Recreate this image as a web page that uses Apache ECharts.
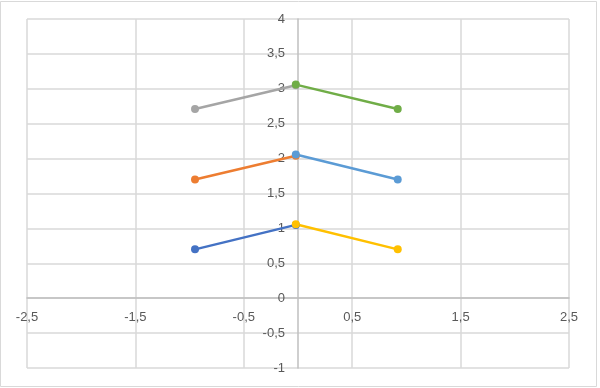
<!DOCTYPE html>
<html><head><meta charset="utf-8">
<script src="https://cdn.jsdelivr.net/npm/echarts@6/dist/echarts.min.js"></script>
<style>html,body{margin:0;padding:0;background:#fff}#c{width:600px;height:388px}</style>
</head><body><div id="c"></div>
<script>
// Left (rising) segments and right (falling) segments, [x, y]
const darkBlue  = [[-0.95, 0.70], [-0.02, 1.05]];
const orange    = [[-0.95, 1.70], [-0.02, 2.04]];
const gray      = [[-0.95, 2.71], [-0.02, 3.05]];
const yellow    = [[-0.02, 1.06], [0.92, 0.70]];
const lightBlue = [[-0.02, 2.06], [0.92, 1.70]];
const green     = [[-0.02, 3.06], [0.92, 2.71]];

const xMin = -2.5, xMax = 2.5, xStep = 1;
const yMin = -1, yMax = 4, yStep = 0.5;

const seriesDefs = [
  { name: 'S1', data: darkBlue,  color: '#4472C4' },
  { name: 'S2', data: orange,    color: '#ED7D31' },
  { name: 'S3', data: gray,      color: '#A5A5A5' },
  { name: 'S4', data: yellow,    color: '#FFC000' },
  { name: 'S5', data: lightBlue, color: '#5B9BD5' },
  { name: 'S6', data: green,     color: '#70AD47' }
];

const W = 600, H = 388;
const G = { left: 27, right: 31, top: 19, bottom: 20 };
const gw = W - G.left - G.right, gh = H - G.top - G.bottom;
// shift axes so they sit on the zero lines
const yAxisOffset = -gw * (0 - xMin) / (xMax - xMin);
const xAxisOffset = -gh * (0 - yMin) / (yMax - yMin);

const fmt = v => String(+v.toFixed(2)).replace('.', ',');
const chart = echarts.init(document.getElementById('c'), null, { renderer: 'canvas' });
chart.setOption({
  animation: false,
  backgroundColor: '#fff',
  grid: Object.assign({ containLabel: false }, G),
  graphic: [{
    type: 'rect', silent: true, z: -1,
    shape: { x: 0.5, y: 1.5, width: 596, height: 385 },
    style: { fill: 'none', stroke: '#d9d9d9', lineWidth: 1 }
  }],
  xAxis: {
    type: 'value', min: xMin, max: xMax, interval: xStep, offset: xAxisOffset,
    axisLine: { show: true, onZero: false, lineStyle: { color: '#bfbfbf', width: 1.5 } },
    axisTick: { show: false },
    splitLine: { show: true, lineStyle: { color: '#d9d9d9', width: 1.5 } },
    axisLabel: { formatter: fmt, color: '#595959', fontSize: 13, fontFamily: 'Liberation Sans', margin: 13, showMinLabel: true, showMaxLabel: true }
  },
  yAxis: {
    type: 'value', min: yMin, max: yMax, interval: yStep, offset: yAxisOffset,
    axisLine: { show: true, onZero: false, lineStyle: { color: '#bfbfbf', width: 1.5 } },
    axisTick: { show: false },
    splitLine: { show: true, lineStyle: { color: '#d9d9d9', width: 1.5 } },
    axisLabel: { formatter: fmt, color: '#595959', fontSize: 13, fontFamily: 'Liberation Sans', margin: 13, showMinLabel: true, showMaxLabel: true }
  },
  series: seriesDefs.map(s => ({
    name: s.name, type: 'line', data: s.data,
    symbol: 'circle', symbolSize: 8,
    lineStyle: { color: s.color, width: 2.5 },
    itemStyle: { color: s.color },
    z: 3
  }))
});
</script></body></html>
